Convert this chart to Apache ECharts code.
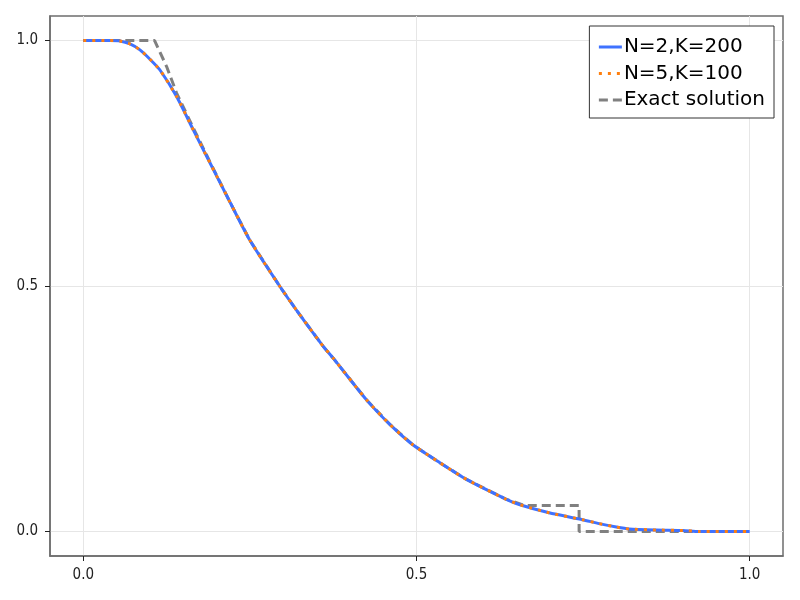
<!DOCTYPE html>
<html><head><meta charset="utf-8">
<script src="https://cdn.jsdelivr.net/npm/echarts@6/dist/echarts.min.js"></script>
<style>html,body{margin:0;padding:0;background:#fff}#c{width:800px;height:600px}</style>
</head><body><div id="c"></div>
<script>
var seriesNames = ['N=2,K=200', 'N=5,K=100', 'Exact solution'];
var tickValues = [0, 0.5, 1];
var numX  = [0, 0.04, 0.055, 0.07, 0.085, 0.1, 0.115, 0.14, 0.165, 0.19, 0.22, 0.25, 0.295, 0.325, 0.36, 0.375, 0.425, 0.46, 0.494, 0.535, 0.575, 0.634, 0.654, 0.699, 0.749, 0.774, 0.8, 0.819, 0.86, 0.9, 0.924, 1.0];
var numY2 = [1, 1, 0.999, 0.993, 0.981, 0.962, 0.94, 0.886, 0.818, 0.751, 0.671, 0.593, 0.499, 0.441, 0.377, 0.353, 0.268, 0.218, 0.177, 0.14, 0.106, 0.066, 0.055, 0.038, 0.024, 0.016, 0.009, 0.005, 0.003, 0.002, 0.0, 0.0];
var numY5 = [1, 1, 0.999, 0.993, 0.981, 0.962, 0.94, 0.886, 0.818, 0.751, 0.671, 0.593, 0.499, 0.441, 0.377, 0.353, 0.268, 0.218, 0.177, 0.14, 0.106, 0.066, 0.055, 0.038, 0.024, 0.016, 0.009, 0.005, 0.003, 0.002, 0.0, 0.0];
var exactX = [0, 0.107, 0.125, 0.14, 0.165, 0.19, 0.22, 0.25, 0.295, 0.325, 0.36, 0.375, 0.425, 0.46, 0.494, 0.535, 0.575, 0.634, 0.662, 0.744, 0.744, 1.0];
var exactY = [1, 1, 0.947, 0.893, 0.822, 0.753, 0.671, 0.593, 0.499, 0.441, 0.377, 0.353, 0.268, 0.218, 0.177, 0.14, 0.106, 0.066, 0.053, 0.053, 0.0, 0.0];

function pairs(xs, ys){ return xs.map(function(x,i){ return [x, ys[i]]; }); }

var chart = echarts.init(document.getElementById('c'));
var tickFont = "'DejaVu Sans Condensed', 'Liberation Sans Narrow', 'DejaVu Sans', sans-serif";
var axisCommon = {
  type: 'value', min: -0.05, max: 1.05,
  axisLine: { show: true, onZero: false, lineStyle: { color: '#6e6e6e', width: 1.5 } },
  axisTick: { show: true, customValues: tickValues, length: 5, lineStyle: { color: '#222', width: 1 } },
  axisLabel: { customValues: tickValues, color: '#222', fontFamily: tickFont, fontSize: 15,
    formatter: function(v){ return v.toFixed(1); } },
  splitLine: { show: true, lineStyle: { color: '#e6e6e6', width: 1 } }
};
chart.setOption({
  animation: false,
  grid: { left: 50, right: 17, top: 16, bottom: 44, show: true, borderColor: '#6e6e6e', borderWidth: 1.5 },
  xAxis: Object.assign({}, axisCommon, { axisLabel: Object.assign({}, axisCommon.axisLabel, { margin: 12 }) }),
  yAxis: Object.assign({}, axisCommon, { axisLabel: Object.assign({}, axisCommon.axisLabel, { margin: 12 }) }),
  legend: {
    data: seriesNames, orient: 'vertical', right: 26, top: 26,
    backgroundColor: '#fff', borderColor: '#333', borderWidth: 1,
    padding: [11, 9, 8, 8], itemGap: 6.5, itemWidth: 23, itemHeight: 14,
    itemStyle: { opacity: 0 },
    lineStyle: { width: 3 },
    textStyle: { fontFamily: 'DejaVu Sans', fontSize: 20, lineHeight: 20, color: '#000', padding: [0, 0, 0, -3] }
  },
  series: [
    { name: seriesNames[2], type: 'line', symbol: 'none', z: 1, data: pairs(exactX, exactY),
      lineStyle: { color: '#808080', width: 3, type: [9, 5] }, itemStyle: { color: '#808080' } },
    { name: seriesNames[0], type: 'line', symbol: 'none', z: 2, smooth: 0.2, data: pairs(numX, numY2),
      lineStyle: { color: '#3f72ff', width: 3 }, itemStyle: { color: '#3f72ff' } },
    { name: seriesNames[1], type: 'line', symbol: 'none', z: 3, smooth: 0.2, data: pairs(numX, numY5),
      lineStyle: { color: '#ff7f0e', width: 3, type: [3, 6] }, itemStyle: { color: '#ff7f0e' } }
  ]
});
</script></body></html>
